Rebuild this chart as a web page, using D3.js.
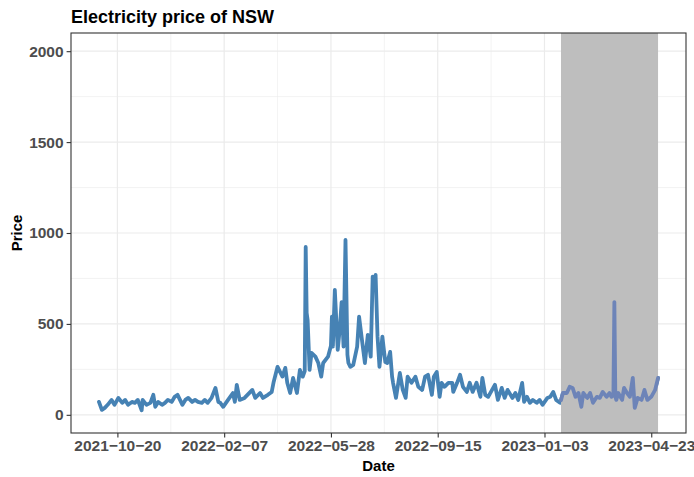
<!DOCTYPE html>
<html><head><meta charset="utf-8">
<script src="https://cdn.jsdelivr.net/npm/d3@7"></script>
<style>body{margin:0;background:#fff}svg{display:block}</style>
</head><body><svg id="c" width="694" height="477"></svg>
<script>
const dates = [
"2021-10-01","2021-10-04","2021-10-07","2021-10-10","2021-10-14","2021-10-17","2021-10-21","2021-10-25","2021-10-28","2021-10-31",
"2021-11-04","2021-11-07","2021-11-10","2021-11-14","2021-11-15","2021-11-19","2021-11-23","2021-11-26","2021-11-28",
"2021-12-01","2021-12-05","2021-12-08","2021-12-11","2021-12-15","2021-12-18","2021-12-21","2021-12-26","2021-12-29",
"2022-01-01","2022-01-05","2022-01-08","2022-01-11","2022-01-15","2022-01-18","2022-01-21","2022-01-25","2022-01-29",
"2022-02-01","2022-02-03","2022-02-06","2022-02-11","2022-02-16","2022-02-18","2022-02-20","2022-02-23","2022-02-28",
"2022-03-08","2022-03-11","2022-03-16","2022-03-19","2022-03-24","2022-03-28","2022-03-30",
"2022-04-03","2022-04-08","2022-04-11","2022-04-13","2022-04-16","2022-04-19","2022-04-23","2022-04-26","2022-04-29",
"2022-05-01","2022-05-02","2022-05-03","2022-05-04","2022-05-06","2022-05-08","2022-05-12","2022-05-15","2022-05-18","2022-05-20","2022-05-25","2022-05-28","2022-05-29","2022-05-30",
"2022-06-01","2022-06-04","2022-06-06","2022-06-08","2022-06-10","2022-06-12","2022-06-14","2022-06-15","2022-06-17","2022-06-20","2022-06-24","2022-06-26","2022-06-29",
"2022-07-02","2022-07-05","2022-07-08","2022-07-10","2022-07-12","2022-07-13","2022-07-15","2022-07-17","2022-07-20","2022-07-23","2022-07-25","2022-07-28","2022-07-30","2022-07-31",
"2022-08-03","2022-08-07","2022-08-10","2022-08-13","2022-08-15","2022-08-19","2022-08-23","2022-08-26","2022-08-30",
"2022-09-02","2022-09-05","2022-09-09","2022-09-11","2022-09-14","2022-09-17","2022-09-19","2022-09-22","2022-09-26","2022-09-30",
"2022-10-01","2022-10-05","2022-10-08","2022-10-11","2022-10-15","2022-10-18","2022-10-21","2022-10-25","2022-10-29","2022-10-31",
"2022-11-03","2022-11-06","2022-11-10","2022-11-13","2022-11-16","2022-11-20","2022-11-23","2022-11-26",
"2022-12-01","2022-12-04","2022-12-07","2022-12-11","2022-12-13","2022-12-16","2022-12-19","2022-12-22","2022-12-26","2022-12-29",
"2023-01-01","2023-01-06","2023-01-09","2023-01-12","2023-01-15","2023-01-19","2023-01-20","2023-01-22","2023-01-26","2023-01-29",
"2023-02-01","2023-02-04","2023-02-07","2023-02-10","2023-02-12","2023-02-16","2023-02-19","2023-02-22","2023-02-26",
"2023-03-01","2023-03-04","2023-03-08","2023-03-11","2023-03-13","2023-03-15","2023-03-16","2023-03-17","2023-03-18","2023-03-20","2023-03-24","2023-03-26","2023-03-29",
"2023-04-01","2023-04-04","2023-04-06","2023-04-09","2023-04-13","2023-04-16","2023-04-19","2023-04-23","2023-04-27","2023-04-30"
];
const prices = [
71,27,38,55,82,55,93,66,82,55,
71,66,82,25,82,55,66,110,44,
71,55,66,82,71,99,110,55,82,
93,71,82,71,66,82,66,93,148,
71,66,44,82,120,71,165,82,93,
137,93,120,93,110,126,181,
264,210,258,176,120,203,120,247,210,
240,923,560,520,247,340,320,285,210,285,320,380,540,375,
687,357,467,620,375,962,330,285,264,275,375,540,410,
285,440,320,760,700,770,430,264,430,290,285,346,210,176,
93,230,137,93,210,176,210,154,137,
210,220,110,210,236,99,176,154,176,176,
126,176,220,154,126,176,126,176,99,203,
110,99,137,165,82,148,93,137,
93,120,82,176,71,99,66,82,66,82,
55,93,99,126,82,66,80,120,120,154,
148,99,120,44,120,93,120,66,99,
93,126,99,120,99,110,620,100,82,120,82,148,120,
99,203,38,93,82,137,82,99,137,203
];
const testStart = "2023-01-20";
const testEnd = "2023-04-30";
const xTickLabels = ["2021-10-20","2022-02-07","2022-05-28","2022-09-15","2023-01-03","2023-04-23"];
const xMinorTicks = ["2021-12-14","2022-04-03","2022-07-22","2022-11-09","2023-02-27"];
const yTicks = [0,500,1000,1500,2000];
const yMinorTicks = [250,750,1250,1750];
const yLimits = [0,2000];
const titleText = "Electricity price of NSW";
const xTitle = "Date", yTitle = "Price";

const parse = d3.utcParse("%Y-%m-%d");
const data = dates.map((d,i)=>({date:parse(d), value:prices[i]}));
const L=71, R=686, T=33, B=433;
const ext = d3.extent(data, d=>d.date);
const span = ext[1]-ext[0];
const x = d3.scaleUtc().domain([new Date(+ext[0]-0.05*span), new Date(+ext[1]+0.05*span)]).range([L,R]);
const yr = yLimits[1]-yLimits[0];
const y = d3.scaleLinear().domain([yLimits[0]-0.05*yr, yLimits[1]+0.05*yr]).range([B,T]);

const svg = d3.select("#c");
const font = "'Liberation Sans', Arial, Helvetica, sans-serif";
svg.append("rect").attr("width",694).attr("height",477).attr("fill","#fff");
svg.append("defs").append("clipPath").attr("id","clip").append("rect").attr("x",L).attr("y",T).attr("width",R-L).attr("height",B-T);

const g = svg.append("g");
g.selectAll(".ymin").data(yMinorTicks).join("line").attr("x1",L).attr("x2",R).attr("y1",d=>y(d)).attr("y2",d=>y(d)).attr("stroke","#ebebeb").attr("stroke-width",0.6);
g.selectAll(".xmin").data(xMinorTicks.map(parse)).join("line").attr("y1",T).attr("y2",B).attr("x1",d=>x(d)).attr("x2",d=>x(d)).attr("stroke","#ebebeb").attr("stroke-width",0.6);
g.selectAll(".ymaj").data(yTicks).join("line").attr("x1",L).attr("x2",R).attr("y1",d=>y(d)).attr("y2",d=>y(d)).attr("stroke","#ebebeb").attr("stroke-width",1.2);
g.selectAll(".xmaj").data(xTickLabels.map(parse)).join("line").attr("y1",T).attr("y2",B).attr("x1",d=>x(d)).attr("x2",d=>x(d)).attr("stroke","#ebebeb").attr("stroke-width",1.2);

const line = d3.line().x(d=>x(d.date)).y(d=>y(d.value));
const plot = svg.append("g").attr("clip-path","url(#clip)");
plot.append("path").datum(data).attr("d",line).attr("fill","none").attr("stroke","#4682b4").attr("stroke-width",3.8).attr("stroke-linejoin","round").attr("stroke-linecap","round");
const ts = parse(testStart), te = parse(testEnd);
plot.append("rect").attr("x",x(ts)).attr("width",x(te)-x(ts)).attr("y",T).attr("height",B-T).attr("fill","#bebebe");
const testData = data.filter(d=>d.date>=ts);
plot.append("path").datum(testData).attr("d",line).attr("fill","none").attr("stroke","#6d84b8").attr("stroke-width",3.8).attr("stroke-linejoin","round").attr("stroke-linecap","round");

svg.append("rect").attr("x",L).attr("y",T).attr("width",R-L).attr("height",B-T).attr("fill","none").attr("stroke","#333333").attr("stroke-width",1.1);

const fmt = s => s.replace(/-/g,"\u2212");
const xAxis = d3.axisBottom(x).tickValues(xTickLabels.map(parse)).tickSize(4.4).tickPadding(3).tickFormat((d,i)=>fmt(xTickLabels[i]));
const xa = svg.append("g").attr("transform",`translate(0,${B})`).call(xAxis);
const yAxis = d3.axisLeft(y).tickValues(yTicks).tickSize(4.4).tickPadding(3).tickFormat(d3.format("d"));
const ya = svg.append("g").attr("transform",`translate(${L},0)`).call(yAxis);
[xa,ya].forEach(a=>{
  a.select(".domain").remove();
  a.selectAll(".tick line").attr("stroke","#333333").attr("stroke-width",1.1);
  a.selectAll(".tick text").attr("fill","#4d4d4d").style("font-family",font).style("font-weight","bold").style("font-size","15.5px");
});

svg.append("text").attr("x",L).attr("y",23).text(titleText).style("font-family",font).style("font-weight","bold").style("font-size","18px").attr("fill","#000");
svg.append("text").attr("x",(L+R)/2).attr("y",471).attr("text-anchor","middle").text(xTitle).style("font-family",font).style("font-weight","bold").style("font-size","15px").attr("fill","#000");
svg.append("text").attr("transform",`translate(22,${(T+B)/2}) rotate(-90)`).attr("text-anchor","middle").text(yTitle).style("font-family",font).style("font-weight","bold").style("font-size","15px").attr("fill","#000");
</script></body></html>
